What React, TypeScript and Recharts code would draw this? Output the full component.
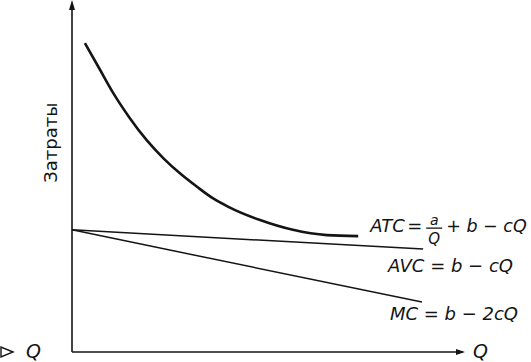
import { ComposedChart, Line, XAxis, YAxis, ReferenceDot, ReferenceLine } from "recharts";

// ATC curve (Q, cost on a 0..100 scale)
const atcQ = [3.3, 7.2, 10.6, 14.8, 19.1, 23.4, 27.6, 31.9, 36.1, 40.0, 48.1, 56.5, 65.2, 73.2];
const atcCost = [88.5, 80.8, 74.1, 67.0, 60.7, 55.5, 51.2, 47.4, 44.0, 41.6, 37.8, 35.0, 33.5, 33.2];
// straight lines starting on the cost axis
const avcQ = [0, 89.8];
const avcCost = [35.0, 29.5];
const mcQ = [0, 89.5];
const mcCost = [35.0, 14.3];

const axisMax = 100;
const costLabel = "Затраты";
const qLabel = "Q";
const avcText = "AVC = b − cQ";
const mcText = "MC = b − 2cQ";

const INK = "#141414";
const FONT = "'DejaVu Sans', sans-serif";

const toRows = (xs: number[], ys: number[]) => xs.map((q, i) => ({ q, cost: ys[i] }));

const atcData = toRows(atcQ, atcCost);
const avcData = toRows(avcQ, avcCost);
const mcData = toRows(mcQ, mcCost);

const italic = { fontFamily: FONT, fontStyle: "italic", fontSize: 18, fill: INK } as const;

function AtcLabel({ cx, cy }: any) {
  const x = cx + 12;
  const y = cy - 4;
  return (
    <g>
      <text x={x} y={y} {...italic}>ATC</text>
      <text x={x + 37} y={y} {...italic}>=</text>
      <text x={x + 64} y={y - 7} textAnchor="middle" {...italic} fontSize={14}>a</text>
      <line x1={x + 56} x2={x + 72} y1={y - 4} y2={y - 4} stroke={INK} strokeWidth={1.3} />
      <text x={x + 64} y={y + 12} textAnchor="middle" {...italic} fontSize={15}>Q</text>
      <text x={x + 76} y={y} {...italic} fontSize={17.5}>+ b − cQ</text>
    </g>
  );
}

function OffsetText(dx: number, dy: number, value: string) {
  return ({ cx, cy }: any) => (
    <text x={cx + dx} y={cy + dy} {...italic}>{value}</text>
  );
}

function XArrow({ cx, cy }: any) {
  return (
    <g>
      <polygon points={`${cx + 2},${cy} ${cx - 7},${cy - 3} ${cx - 7},${cy + 3}`} fill={INK} />
      <text x={cx + 10} y={cy + 6} {...italic} fontSize={19}>{qLabel}</text>
      <polygon points={`${cx - 450},${cy} ${cx - 462},${cy - 5} ${cx - 462},${cy + 5}`} fill="none" stroke={INK} strokeWidth={1.4} />
      <text x={cx - 437} y={cy + 6} {...italic} fontSize={19}>{qLabel}</text>
    </g>
  );
}

function YArrow({ cx, cy }: any) {
  return <polygon points={`${cx},${cy - 3} ${cx - 3},${cy + 7} ${cx + 3},${cy + 7}`} fill={INK} />;
}

function CostTitle({ cx, cy }: any) {
  const x = cx - 15;
  return (
    <text
      x={x}
      y={cy}
      transform={`rotate(-90, ${x}, ${cy})`}
      textAnchor="middle"
      fontFamily={FONT}
      fontSize={18}
      fill={INK}
    >
      {costLabel}
    </text>
  );
}

export default function App() {
  return (
    <div style={{ position: "absolute", left: 0, top: 0, width: 531, height: 362, background: "#fff" }}>
      <ComposedChart width={531} height={362} margin={{ top: 3, right: 68, bottom: 10, left: 72 }} style={{ overflow: "visible" }}>
        <XAxis type="number" dataKey="q" domain={[0, axisMax]} height={0} hide />
        <YAxis type="number" domain={[0, axisMax]} width={0} hide />
        <ReferenceLine x={0} stroke={INK} strokeWidth={1.6} />
        <ReferenceLine y={0} stroke={INK} strokeWidth={1.6} />
        <Line data={atcData} dataKey="cost" type="monotone" stroke={INK} strokeWidth={2.6} dot={false} isAnimationActive={false} />
        <Line data={avcData} dataKey="cost" type="linear" stroke={INK} strokeWidth={1.5} dot={false} isAnimationActive={false} />
        <Line data={mcData} dataKey="cost" type="linear" stroke={INK} strokeWidth={1.5} dot={false} isAnimationActive={false} />
        <ReferenceDot x={atcQ[atcQ.length - 1]} y={atcCost[atcCost.length - 1]} shape={AtcLabel} />
        <ReferenceDot x={avcQ[1]} y={avcCost[1]} shape={OffsetText(-35, 23, avcText)} />
        <ReferenceDot x={mcQ[1]} y={mcCost[1]} shape={OffsetText(-32, 18, mcText)} />
        <ReferenceDot x={axisMax} y={0} shape={XArrow} />
        <ReferenceDot x={0} y={axisMax} shape={YArrow} />
        <ReferenceDot x={0} y={60} shape={CostTitle} />
      </ComposedChart>
    </div>
  );
}
